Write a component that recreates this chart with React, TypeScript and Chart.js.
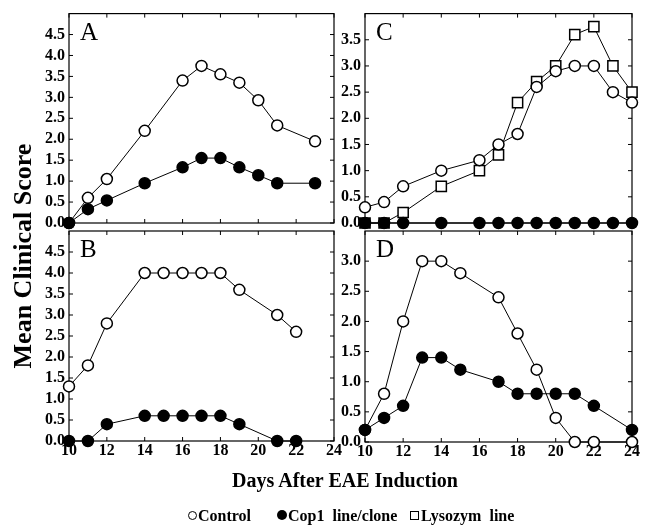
import { useEffect, useRef } from "react";
import { Chart, registerables } from "chart.js";

Chart.register(...registerables);

const W = 645;
const H = 526;

// Panel A
const daysA = [10, 11, 12, 14, 16, 17, 18, 19, 20, 21, 23];
const controlA = [0, 0.6, 1.05, 2.2, 3.4, 3.75, 3.55, 3.35, 2.93, 2.33, 1.95];
const cop1A = [0, 0.33, 0.54, 0.95, 1.33, 1.55, 1.55, 1.33, 1.14, 0.95, 0.95];

// Panel B
const daysB = [10, 11, 12, 14, 15, 16, 17, 18, 19, 21, 22];
const controlB = [1.3, 1.8, 2.8, 4.0, 4.0, 4.0, 4.0, 4.0, 3.6, 3.0, 2.6];
const cop1B = [0, 0, 0.4, 0.6, 0.6, 0.6, 0.6, 0.6, 0.4, 0, 0];

// Panel C
const daysC = [10, 11, 12, 14, 16, 17, 18, 19, 20, 21, 22, 23, 24];
const controlC = [0.3, 0.4, 0.7, 1.0, 1.2, 1.5, 1.7, 2.6, 2.9, 3.0, 3.0, 2.5, 2.3];
const cop1C = [0, 0, 0, 0, 0, 0, 0, 0, 0, 0, 0, 0, 0];
const lysozymC = [0, 0, 0.2, 0.7, 1.0, 1.3, 2.3, 2.7, 3.0, 3.6, 3.75, 3.0, 2.5];

// Panel D
const daysD = [10, 11, 12, 13, 14, 15, 17, 18, 19, 20, 21, 22, 24];
const controlD = [0.2, 0.8, 2.0, 3.0, 3.0, 2.8, 2.4, 1.8, 1.2, 0.4, 0, 0, 0];
const cop1D = [0.2, 0.4, 0.6, 1.4, 1.4, 1.2, 1.0, 0.8, 0.8, 0.8, 0.8, 0.6, 0.2];

const xMin = 10;
const xMax = 24;
const xStep = 2;
const yStep = 0.5;

const SERIF = '"Liberation Serif", "Times New Roman", serif';

type Series = { kind: "control" | "cop1" | "lysozym"; days: number[]; values: number[] };

type Panel = {
  letter: string;
  left: number;
  right: number;
  top: number;
  bottom: number;
  yMax: number;
  showX: boolean;
  series: Series[];
};

const panels: Panel[] = [
  {
    letter: "A", left: 69, right: 334, top: 12, bottom: 223, yMax: 5, showX: false,
    series: [
      { kind: "cop1", days: daysA, values: cop1A },
      { kind: "control", days: daysA, values: controlA },
    ],
  },
  {
    letter: "B", left: 69, right: 334, top: 231, bottom: 441, yMax: 5, showX: true,
    series: [
      { kind: "cop1", days: daysB, values: cop1B },
      { kind: "control", days: daysB, values: controlB },
    ],
  },
  {
    letter: "C", left: 365, right: 632, top: 12, bottom: 223, yMax: 4, showX: false,
    series: [
      { kind: "cop1", days: daysC, values: cop1C },
      { kind: "control", days: daysC, values: controlC },
      { kind: "lysozym", days: daysC, values: lysozymC },
    ],
  },
  {
    letter: "D", left: 365, right: 632, top: 231, bottom: 442, yMax: 3.5, showX: true,
    series: [
      { kind: "cop1", days: daysD, values: cop1D },
      { kind: "control", days: daysD, values: controlD },
    ],
  },
];

function makeDataset(s: Series) {
  const data = s.days.map((d, i) => ({ x: d, y: s.values[i] }));
  const base: any = {
    data,
    borderColor: "#000",
    borderWidth: 1,
    pointBorderColor: "#000",
    pointBorderWidth: 1.5,
    pointRadius: 5.5,
    tension: 0,
    clip: false,
    fill: false,
  };
  if (s.kind === "cop1") {
    base.pointStyle = "circle";
    base.pointBackgroundColor = "#000";
  } else if (s.kind === "control") {
    base.pointStyle = "circle";
    base.pointBackgroundColor = "#fff";
  } else {
    base.pointStyle = "rect";
    base.pointRadius = 7.2;
    base.pointBackgroundColor = (c: any) => (c.raw && c.raw.y === 0 ? "#000" : "#fff");
  }
  return base;
}

function PanelChart({ p }: { p: Panel }) {
  const ref = useRef<HTMLCanvasElement | null>(null);
  useEffect(() => {
    if (!ref.current) return;
    const xAxisH = p.showX ? 24 : 0;
    const framePlugin = {
      id: "frame" + p.letter,
      beforeDatasetsDraw(chart: any) {
        const { ctx, chartArea: a, scales } = chart;
        ctx.save();
        ctx.strokeStyle = "#000";
        ctx.lineWidth = 1.2;
        ctx.strokeRect(a.left, a.top, a.right - a.left, a.bottom - a.top);
        const L = 4;
        ctx.lineWidth = 1;
        ctx.beginPath();
        scales.x.ticks.forEach((t: any) => {
          const px = scales.x.getPixelForValue(t.value);
          ctx.moveTo(px, a.top);
          ctx.lineTo(px, a.top + L);
          ctx.moveTo(px, a.bottom);
          ctx.lineTo(px, a.bottom - L);
        });
        scales.y.ticks.forEach((t: any) => {
          const py = scales.y.getPixelForValue(t.value);
          ctx.moveTo(a.left, py);
          ctx.lineTo(a.left + L, py);
          ctx.moveTo(a.right, py);
          ctx.lineTo(a.right - L, py);
        });
        ctx.stroke();
        ctx.fillStyle = "#000";
        ctx.font = "25px " + SERIF;
        ctx.textBaseline = "alphabetic";
        ctx.textAlign = "left";
        ctx.fillText(p.letter, a.left + 11, a.top + 26);
        ctx.restore();
      },
    };
    const chart = new Chart(ref.current, {
      type: "line",
      data: { datasets: p.series.map(makeDataset) },
      options: {
        responsive: false,
        maintainAspectRatio: false,
        animation: false,
        events: [],
        layout: {
          padding: {
            left: 0,
            top: p.top,
            right: W - p.right,
            bottom: H - p.bottom - xAxisH,
          },
        },
        plugins: { legend: { display: false }, tooltip: { enabled: false } },
        scales: {
          x: {
            type: "linear",
            min: xMin,
            max: xMax,
            grid: { display: false, drawTicks: false },
            border: { display: false },
            ticks: {
              display: p.showX,
              stepSize: xStep,
              padding: 0,
              color: "#000",
              font: { family: SERIF, size: 16, weight: "bold" },
              callback: (v: any) => String(v),
            },
            afterFit: (scale: any) => {
              scale.height = xAxisH;
            },
          },
          y: {
            type: "linear",
            min: 0,
            max: p.yMax,
            grid: { display: false, drawTicks: false },
            border: { display: false },
            ticks: {
              stepSize: yStep,
              padding: 4,
              color: "#000",
              font: { family: SERIF, size: 16, weight: "bold" },
              callback: (v: any) => Number(v).toFixed(1),
            },
            afterBuildTicks: (scale: any) => {
              scale.ticks = scale.ticks.filter((t: any) => t.value < p.yMax - 1e-6);
            },
            afterFit: (scale: any) => {
              scale.width = p.left;
            },
          },
        },
      } as any,
      plugins: [framePlugin],
    });
    return () => chart.destroy();
  }, [p]);
  return (
    <canvas
      ref={ref}
      width={W}
      height={H}
      style={{ position: "absolute", left: 0, top: 0, width: W, height: H }}
    />
  );
}

const legendFont = { fontFamily: SERIF, fontWeight: "bold" as const, fontSize: 16, lineHeight: "16px" };

export default function App() {
  return (
    <div style={{ position: "fixed", left: 0, top: 0, width: W, height: H, background: "#fff", overflow: "hidden" }}>
      {panels.map((p) => (
        <PanelChart key={p.letter} p={p} />
      ))}
      <div
        style={{
          position: "absolute",
          left: 23 - 160,
          top: 256 - 15,
          width: 320,
          height: 30,
          lineHeight: "30px",
          textAlign: "center",
          transform: "rotate(-90deg)",
          fontFamily: SERIF,
          fontWeight: "bold",
          fontSize: 26,
          whiteSpace: "nowrap",
        }}
      >
        Mean Clinical Score
      </div>
      <div
        style={{
          position: "absolute",
          left: 145,
          top: 470,
          width: 400,
          lineHeight: "20px",
          textAlign: "center",
          fontFamily: SERIF,
          fontWeight: "bold",
          fontSize: 20,
          whiteSpace: "nowrap",
        }}
      >
        Days After EAE Induction
      </div>
      <div style={{ position: "absolute", left: 188, top: 511, width: 9, height: 9, borderRadius: "50%", border: "1.2px solid #000", boxSizing: "border-box" }} />
      <div style={{ position: "absolute", left: 198, top: 508, whiteSpace: "pre", ...legendFont }}>Control</div>
      <div style={{ position: "absolute", left: 277, top: 510, width: 10, height: 10, borderRadius: "50%", background: "#000" }} />
      <div style={{ position: "absolute", left: 288, top: 508, whiteSpace: "pre", ...legendFont }}>Cop1  line/clone</div>
      <div style={{ position: "absolute", left: 410, top: 511, width: 9, height: 9, border: "1.2px solid #000", boxSizing: "border-box" }} />
      <div style={{ position: "absolute", left: 421, top: 508, whiteSpace: "pre", ...legendFont }}>Lysozym  line</div>
    </div>
  );
}
